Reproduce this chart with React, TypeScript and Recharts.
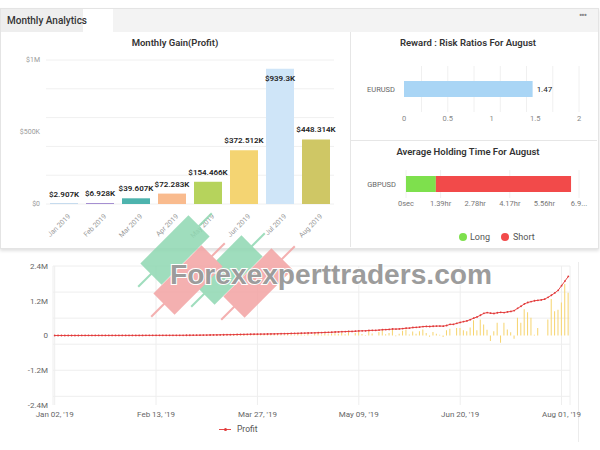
import React from "react";
import {
  Bar,
  BarChart,
  CartesianGrid,
  Cell,
  ComposedChart,
  LabelList,
  Line,
  XAxis,
  YAxis,
} from "recharts";

// ---- Monthly gain (top left)
const MONTHS = ["Jan 2019", "Feb 2019", "Mar 2019", "Apr 2019", "May 2019", "Jun 2019", "Jul 2019", "Aug 2019"];
const MONTHLY_GAIN = [2907, 6928, 39607, 72283, 154466, 372512, 939300, 448314];
const MONTH_COLORS = ["#7fb3e0", "#a58fd1", "#4db3ad", "#f9bb8e", "#b6d35c", "#f4d472", "#cfe5f8", "#cfc765"];
const GAIN_TICKS = [0, 500000, 1000000];
const GAIN_GRID = [0, 100000, 200000, 300000, 400000, 500000, 600000, 700000, 800000, 900000, 1000000];

// ---- Reward : risk (top right)
const RR_PAIRS = ["EURUSD"];
const RR_VALUES = [1.47];
const RR_TICKS = [0, 0.5, 1, 1.5, 2];
const RR_GRID = [0, 0.1, 0.2, 0.3, 0.4, 0.5, 0.6, 0.7, 0.8, 0.9, 1, 1.1, 1.2, 1.3, 1.4, 1.5, 1.6, 1.7, 1.8, 1.9, 2];

// ---- Average holding time (seconds)
const HOLD_PAIRS = ["GBPUSD"];
const HOLD_LONG = [4320];
const HOLD_SHORT = [19550];
const HOLD_TICKS = [0, 5004, 10008, 15012, 20016, 25020];
const HOLD_TICK_LABELS = ["0sec", "1.39hr", "2.78hr", "4.17hr", "5.56hr", "6.9..."];

// ---- Daily profit (bars) and cumulative profit (line), in thousands
const BARS_JAN = [2, 0, 3, 1, 0, 4, 2, 0, 3, 5, 1, 0, 2, 4, 0, 3, 1, 2, 0, 5, 3, 2];
const BARS_FEB = [4, 2, 0, 6, 3, 5, 1, 0, 7, 4, 3, 6, 2, 8, 5, 0, 4, 9, 6, 5];
const BARS_MAR = [10, 8, 15, 6, 12, 18, 9, 14, 20, 11, 7, 16, 22, 13, 19, 25, 10, 17, 28, 21, 30];
const BARS_APR = [25, 38, 14, 45, 30, 20, 52, 35, 18, 60, 42, 28, 55, 12, 48, 65, 33, 70, 40, 58, 75];
const BARS_MAY = [60, 95, 40, 110, 0, 85, 130, 55, 20, 150, 70, 0, 120, 180, 45, 90, 200, -30, 60, 160, 210, 35, 140];
const BARS_JUN = [60, 150, 210, 90, -40, 120, 60, 30, -50, 180, 230, 0, 260, 260, 180, 150, 280, 530, 180, 550];
const BARS_JUL = [380, 200, -190, 150, 440, -250, 440, 210, 110, -110, 610, 440, 910, 800, 610, 30, 260, 0, 0, 550, 1260, 840, 890];
const BARS_AUG = [1140, 1780, 1480];

const CUM_JAN = [0, 0.1, 0.3, 0.4, 0.4, 0.7, 0.8, 0.8, 1.0, 1.3, 1.4, 1.4, 1.5, 1.8, 1.8, 2.0, 2.1, 2.2, 2.2, 2.6, 2.8, 2.9];
const CUM_FEB = [3.2, 3.3, 3.3, 3.8, 4.0, 4.4, 4.5, 4.5, 5.1, 5.4, 5.6, 6.1, 6.2, 6.9, 7.3, 7.3, 7.7, 8.5, 9.2, 9.8];
const CUM_MAR = [11.2, 12.6, 14.8, 15.9, 17.6, 20.1, 21.4, 23.4, 26.2, 27.7, 28.7, 31.0, 34.0, 35.8, 38.5, 42.0, 43.4, 45.8, 47.1, 48.2, 49.4];
const CUM_APR = [51.5, 54.6, 55.7, 59.4, 61.8, 63.4, 67.6, 70.4, 71.9, 76.7, 80.1, 82.3, 86.7, 87.7, 91.6, 96.8, 99.4, 105.0, 108.2, 112.8, 121.7];
const CUM_MAY = [125, 131, 134, 142, 142, 148, 157, 161, 163, 173, 178, 178, 187, 200, 203, 210, 224, 222, 227, 238, 253, 256, 276];
const CUM_JUN = [281, 292, 307, 314, 311, 320, 325, 327, 323, 345, 385, 385, 420, 450, 480, 505, 548, 600, 640, 700];
const CUM_JUL = [765, 790, 770, 760, 785, 800, 790, 815, 830, 860, 940, 1010, 1090, 1140, 1170, 1200, 1215, 1230, 1255, 1320, 1390, 1470, 1560];
const CUM_AUG = [1720, 1880, 2040];

const START_DATE = "2019-01-02";
const HOLIDAYS = ["2019-04-19"];
const PROFIT_TICKS = [-2400000, -1200000, 0, 1200000, 2400000];
const PROFIT_GRID = [-2400000, -2100000, -1800000, -1500000, -1200000, -900000, -600000, -300000, 0, 300000, 600000, 900000, 1200000, 1500000, 1800000, 2100000, 2400000];

const MON = ["Jan", "Feb", "Mar", "Apr", "May", "Jun", "Jul", "Aug", "Sep", "Oct", "Nov", "Dec"];

function tradingDays(count: number) {
  const out: string[] = [];
  const d = new Date(START_DATE + "T00:00:00Z");
  while (out.length < count) {
    const iso = d.toISOString().slice(0, 10);
    const wd = d.getUTCDay();
    if (wd !== 0 && wd !== 6 && !HOLIDAYS.includes(iso)) {
      const dd = String(d.getUTCDate()).padStart(2, "0");
      out.push(`${MON[d.getUTCMonth()]} ${dd}, '19`);
    }
    d.setUTCDate(d.getUTCDate() + 1);
  }
  return out;
}

const dailyBars = [...BARS_JAN, ...BARS_FEB, ...BARS_MAR, ...BARS_APR, ...BARS_MAY, ...BARS_JUN, ...BARS_JUL, ...BARS_AUG];
const cumProfit = [...CUM_JAN, ...CUM_FEB, ...CUM_MAR, ...CUM_APR, ...CUM_MAY, ...CUM_JUN, ...CUM_JUL, ...CUM_AUG];
const dates = tradingDays(dailyBars.length);
const profitData = dates.map((date, i) => ({
  date,
  daily: dailyBars[i] * 1000,
  profit: cumProfit[i] * 1000,
}));

const gainData = MONTHS.map((m, i) => ({ month: m, gain: MONTHLY_GAIN[i] }));
const rrData = RR_PAIRS.map((p, i) => ({ pair: p, ratio: RR_VALUES[i] }));
const holdData = HOLD_PAIRS.map((p, i) => ({ pair: p, long: HOLD_LONG[i], short: HOLD_SHORT[i] }));

const FONT = "Roboto, 'Liberation Sans', Arial, sans-serif";

function fmtGain(v: number) {
  return `$${parseFloat((v / 1000).toFixed(3))}K`;
}

function fmtMoneyAxis(v: number) {
  if (v === 0) return "$0";
  if (v >= 1000000) return `$${v / 1000000}M`;
  return `$${v / 1000}K`;
}

function fmtM(v: number) {
  if (v === 0) return "0";
  return `${v / 1000000}M`;
}

function GainLabel(props: any) {
  const { x, y, width, value } = props;
  const inside = y < 60;
  return (
    <text
      x={x + width / 2}
      y={inside ? y + 12 : y - 7}
      textAnchor="middle"
      fontSize={8}
      fontWeight={600}
      fill="#222"
      fontFamily={FONT}
    >
      {fmtGain(value)}
    </text>
  );
}

function MonthTick(props: any) {
  const { x, y, payload } = props;
  return (
    <text
      x={0}
      y={0}
      transform={`translate(${x + 4},${y + 2}) rotate(-45)`}
      textAnchor="end"
      dy={4}
      fontSize={7}
      fill="#9a9a9a"
      fontFamily={FONT}
    >
      {payload.value}
    </text>
  );
}

function Title({ text, cx, cy }: { text: string; cx: number; cy: number }) {
  return (
    <div
      style={{
        position: "absolute",
        left: cx - 120,
        top: cy - 7,
        width: 240,
        lineHeight: "14px",
        textAlign: "center",
        fontSize: 9.5,
        fontWeight: 600,
        color: "#333",
        fontFamily: FONT,
        whiteSpace: "nowrap",
      }}
    >
      {text}
    </div>
  );
}

function Candle({ cx, cy, color }: { cx: number; cy: number; color: string }) {
  return (
    <g transform={`rotate(45 ${cx} ${cy})`}>
      <line x1={cx} y1={cy - 52} x2={cx} y2={cy + 52} stroke={color} strokeWidth={2} />
      <rect x={cx - 15} y={cy - 34} width={30} height={68} fill={color} />
    </g>
  );
}

export default function App() {
  return (
    <div
      style={{
        position: "absolute",
        left: 0,
        top: 0,
        width: 600,
        height: 450,
        background: "#fff",
        overflow: "hidden",
        fontFamily: FONT,
      }}
    >
      {/* top card */}
      <div
        style={{
          position: "absolute",
          left: 0,
          top: 8,
          width: 597,
          height: 239,
          border: "1px solid #e4e4e4",
          boxShadow: "0 2px 3px rgba(0,0,0,0.12)",
          background: "#fff",
        }}
      />
      <div style={{ position: "absolute", left: 1, top: 9, width: 597, height: 23, background: "#f3f3f3" }} />
      <div style={{ position: "absolute", left: 1, top: 9, width: 82, height: 23, background: "#eeeeee" }} />
      <div style={{ position: "absolute", left: 83, top: 9, width: 30, height: 23, background: "#fff" }} />
      <div
        style={{
          position: "absolute",
          left: 7,
          top: 14,
          fontSize: 10,
          lineHeight: "14px",
          color: "#333",
          fontWeight: 500,
        }}
      >
        Monthly Analytics
      </div>
      <div style={{ position: "absolute", left: 579, top: 10, fontSize: 10, color: "#888", letterSpacing: -1 }}>•••</div>
      <div style={{ position: "absolute", left: 350, top: 32, width: 1, height: 215, background: "#e6e6e6" }} />
      <div style={{ position: "absolute", left: 351, top: 140, width: 246, height: 1, background: "#e6e6e6" }} />

      {/* monthly gain */}
      <Title text="Monthly Gain(Profit)" cx={175} cy={43} />
      <div style={{ position: "absolute", left: 0, top: 32 }}>
        <BarChart width={350} height={214} data={gainData} margin={{ top: 28, right: 16, left: 6, bottom: 0 }}>
          <CartesianGrid vertical={false} stroke="#f0f0f0" horizontalValues={GAIN_GRID} />
          <XAxis
            dataKey="month"
            axisLine={false}
            tickLine={false}
            interval={0}
            height={42}
            tick={<MonthTick />}
          />
          <YAxis
            domain={[0, 1000000]}
            ticks={GAIN_TICKS}
            axisLine={false}
            tickLine={false}
            width={40}
            tickSize={0}
            tickMargin={6}
            tickFormatter={fmtMoneyAxis}
            tick={{ fontSize: 7, fill: "#9a9a9a", fontFamily: FONT }}
          />
          <Bar dataKey="gain" barSize={28} isAnimationActive={false}>
            {gainData.map((_, i) => (
              <Cell key={i} fill={MONTH_COLORS[i]} />
            ))}
            <LabelList dataKey="gain" content={<GainLabel />} />
          </Bar>
        </BarChart>
      </div>

      {/* reward : risk */}
      <Title text="Reward : Risk Ratios For August" cx={468} cy={43} />
      <div style={{ position: "absolute", left: 350, top: 54 }}>
        <BarChart
          width={248}
          height={74}
          data={rrData}
          layout="vertical"
          margin={{ top: 12, right: 19, left: 0, bottom: 0 }}
        >
          <CartesianGrid horizontal={false} stroke="#f0f0f0" verticalValues={RR_GRID} />
          <XAxis
            type="number"
            domain={[0, 2]}
            ticks={RR_TICKS}
            axisLine={false}
            tickLine={false}
            tickSize={0}
            tickMargin={4}
            height={16}
            tick={{ fontSize: 7.5, fill: "#888", fontFamily: FONT }}
          />
          <YAxis
            type="category"
            dataKey="pair"
            axisLine={false}
            tickLine={false}
            tickSize={0}
            tickMargin={9}
            width={54}
            tick={{ fontSize: 7.5, fill: "#666", fontFamily: FONT }}
          />
          <Bar dataKey="ratio" fill="#a9d5f5" barSize={16} isAnimationActive={false}>
            <LabelList
              dataKey="ratio"
              position="right"
              offset={4}
              style={{ fontSize: 8, fill: "#222", fontFamily: FONT }}
            />
          </Bar>
        </BarChart>
      </div>

      {/* holding time */}
      <Title text="Average Holding Time For August" cx={468} cy={152} />
      <div style={{ position: "absolute", left: 350, top: 158 }}>
        <BarChart
          width={248}
          height={56}
          data={holdData}
          layout="vertical"
          margin={{ top: 12, right: 19, left: 0, bottom: 0 }}
        >
          <CartesianGrid horizontal={false} stroke="#f0f0f0" />
          <XAxis
            type="number"
            domain={[0, 25020]}
            ticks={HOLD_TICKS}
            axisLine={false}
            tickLine={false}
            tickSize={0}
            tickMargin={3}
            height={16}
            tickFormatter={(v: number) => HOLD_TICK_LABELS[HOLD_TICKS.indexOf(v)] ?? ""}
            tick={{ fontSize: 7.5, fill: "#777", fontFamily: FONT }}
          />
          <YAxis
            type="category"
            dataKey="pair"
            axisLine={false}
            tickLine={false}
            tickSize={0}
            tickMargin={10}
            width={56}
            tick={{ fontSize: 7.5, fill: "#666", fontFamily: FONT }}
          />
          <Bar dataKey="long" stackId="h" fill="#7ee04d" barSize={16} isAnimationActive={false} />
          <Bar dataKey="short" stackId="h" fill="#f24a4a" barSize={16} isAnimationActive={false} />
        </BarChart>
      </div>
      <div style={{ position: "absolute", left: 459, top: 233, width: 8, height: 8, borderRadius: 4, background: "#7ee04d" }} />
      <div style={{ position: "absolute", left: 470, top: 231, fontSize: 9, lineHeight: "12px", color: "#555" }}>Long</div>
      <div style={{ position: "absolute", left: 501, top: 233, width: 8, height: 8, borderRadius: 4, background: "#f24a4a" }} />
      <div style={{ position: "absolute", left: 513, top: 231, fontSize: 9, lineHeight: "12px", color: "#555" }}>Short</div>

      {/* cumulative profit */}
      <div style={{ position: "absolute", left: 578, top: 262, width: 1, height: 180, background: "#ececec" }} />
      <div style={{ position: "absolute", left: 0, top: 255 }}>
        <ComposedChart
          width={590}
          height={170}
          data={profitData}
          margin={{ top: 11, right: 20, left: 8, bottom: 0 }}
          barCategoryGap={1}
        >
          <CartesianGrid stroke="#eeeeee" horizontalValues={PROFIT_GRID} />
          <XAxis
            dataKey="date"
            interval={29}
            axisLine={false}
            tickLine={false}
            tickSize={0}
            tickMargin={6}
            height={20}
            tick={{ fontSize: 8, fill: "#666", fontFamily: FONT }}
          />
          <YAxis
            domain={[-2400000, 2400000]}
            ticks={PROFIT_TICKS}
            axisLine={false}
            tickLine={false}
            tickSize={0}
            tickMargin={5}
            width={45}
            tickFormatter={fmtM}
            tick={{ fontSize: 8, fill: "#666", fontFamily: FONT }}
          />
          <Bar dataKey="daily" fill="#f6d46e" isAnimationActive={false} />
          <Line
            type="linear"
            dataKey="profit"
            stroke="#e84848"
            strokeWidth={1}
            dot={{ r: 0.9, fill: "#e03a3a", stroke: "none" }}
            isAnimationActive={false}
          />
        </ComposedChart>
      </div>
      <div style={{ position: "absolute", left: 219, top: 429, width: 12, height: 1, background: "#e84848" }} />
      <div style={{ position: "absolute", left: 223.5, top: 427.5, width: 3, height: 3, borderRadius: 2, background: "#e03a3a" }} />
      <div style={{ position: "absolute", left: 237, top: 423, fontSize: 8.5, lineHeight: "12px", color: "#555" }}>Profit</div>

      {/* watermark */}
      <svg
        width={600}
        height={450}
        style={{ position: "absolute", left: 0, top: 0, pointerEvents: "none" }}
      >
        <g opacity={0.85}>
          <Candle cx={175} cy={250} color="#8fd8b2" />
          <Candle cx={228} cy={270} color="#8fd8b2" />
          <Candle cx={188} cy={280} color="#f3a3a3" />
          <Candle cx={258} cy={283} color="#f3a3a3" />
        </g>
        <text
          x={170}
          y={284}
          textLength={322}
          lengthAdjust="spacingAndGlyphs"
          fontSize={27}
          fontWeight="bold"
          fontFamily="'Liberation Sans', Arial, sans-serif"
          fill="#9c9c9c"
          stroke="#ffffff"
          strokeWidth={2}
          paintOrder="stroke"
        >
          Forexexperttraders.com
        </text>
      </svg>
    </div>
  );
}
